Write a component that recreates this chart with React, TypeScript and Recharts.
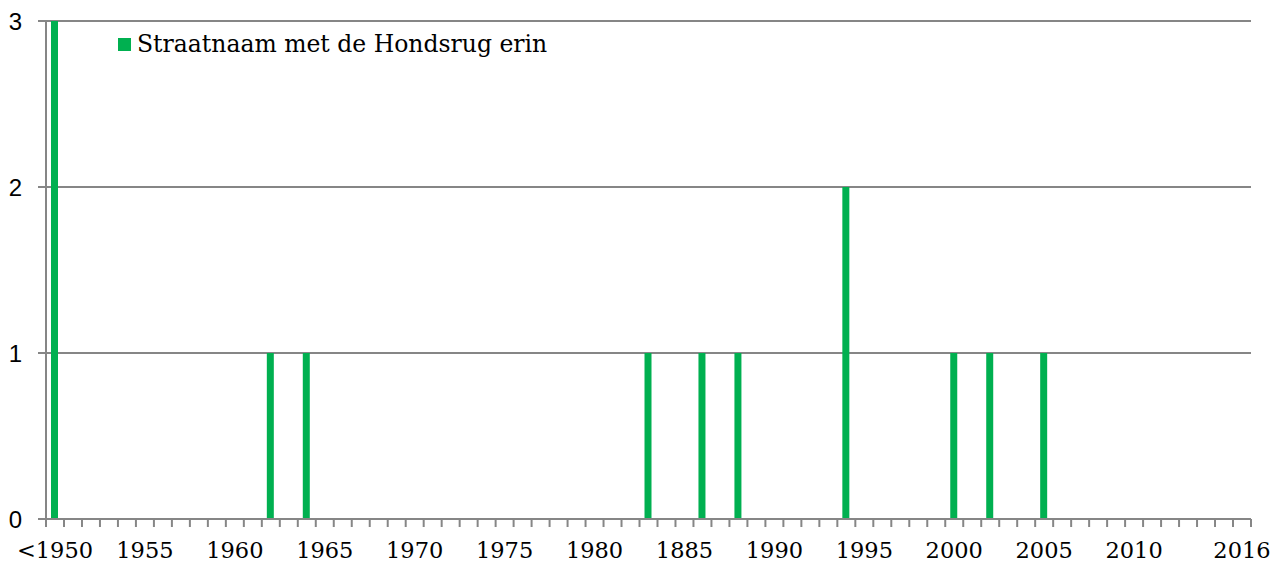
import * as React from "react";
import { BarChart, Bar, XAxis, YAxis, CartesianGrid, Legend } from "recharts";

// one category per year; first bucket holds everything before 1950
const years: string[] = ["<1950"];
for (let y = 1951; y <= 2016; y++) years.push(String(y));

// labels as printed on the original axis (incl. the "1885" typo)
const tickLabels: Record<string, string> = {
  "<1950": "<1950",
  "1955": "1955",
  "1960": "1960",
  "1965": "1965",
  "1970": "1970",
  "1975": "1975",
  "1980": "1980",
  "1985": "1885",
  "1990": "1990",
  "1995": "1995",
  "2000": "2000",
  "2005": "2005",
  "2010": "2010",
  "2016": "2016",
};

const counts: Record<string, number> = {
  "<1950": 3,
  "1962": 1,
  "1964": 1,
  "1983": 1,
  "1986": 1,
  "1988": 1,
  "1994": 2,
  "2000": 1,
  "2002": 1,
  "2005": 1,
};

const seriesName = "Straatnaam met de Hondsrug erin";
const yTicks = [0, 1, 2, 3];

const data = years.map((y) => ({ year: y, count: counts[y] ?? 0 }));

const GREEN = "#00B050";
const GRAY = "#868686";
const SERIF = "'DejaVu Serif', serif";

function YearTick({ x, y, payload, index }: any) {
  const half = payload?.offset ?? 9;
  const label = tickLabels[payload.value];
  const isLast = index === years.length - 1;
  return (
    <g>
      <line x1={x - half} x2={x - half} y1={y - 8} y2={y} stroke={GRAY} strokeWidth={2} />
      {isLast ? (
        <line x1={x + half} x2={x + half} y1={y - 8} y2={y} stroke={GRAY} strokeWidth={2} />
      ) : null}
      {label ? (
        <text x={x} y={y} dy={31} textAnchor="middle" fontFamily={SERIF} fontSize={22.5} fill="#000">
          {label}
        </text>
      ) : null}
    </g>
  );
}

function LegendContent() {
  return (
    <div style={{ display: "flex", alignItems: "center", fontFamily: SERIF, fontSize: 23.5, whiteSpace: "nowrap" }}>
      <span style={{ width: 13, height: 13, background: GREEN, display: "inline-block", marginRight: 6 }} />
      <span>{seriesName}</span>
    </div>
  );
}

export default function App() {
  return (
    <div style={{ position: "absolute", left: 0, top: 0, background: "#fff" }}>
      <BarChart
        width={1285}
        height={564}
        data={data}
        margin={{ top: 21, right: 34, bottom: 0, left: 0 }}
        barCategoryGap={0}
      >
        <CartesianGrid vertical={false} stroke={GRAY} strokeWidth={2} />
        <XAxis
          dataKey="year"
          interval={0}
          height={45}
          tickLine={false}
          axisLine={{ stroke: GRAY, strokeWidth: 2 }}
          tick={<YearTick />}
        />
        <YAxis
          width={46}
          domain={[0, 3]}
          ticks={yTicks}
          tickSize={8}
          tickMargin={16}
          tickLine={{ stroke: GRAY, strokeWidth: 2 }}
          axisLine={{ stroke: GRAY, strokeWidth: 2 }}
          tick={{ fontFamily: "'Liberation Sans', Arial, sans-serif", fontSize: 24, fill: "#000" }}
        />
        <Legend
          content={<LegendContent />}
          layout="horizontal"
          verticalAlign="middle"
          align="center"
          wrapperStyle={{ position: "absolute", left: 118, top: 30, width: "auto" }}
        />
        <Bar dataKey="count" name={seriesName} fill={GREEN} barSize={7} isAnimationActive={false} />
      </BarChart>
    </div>
  );
}
